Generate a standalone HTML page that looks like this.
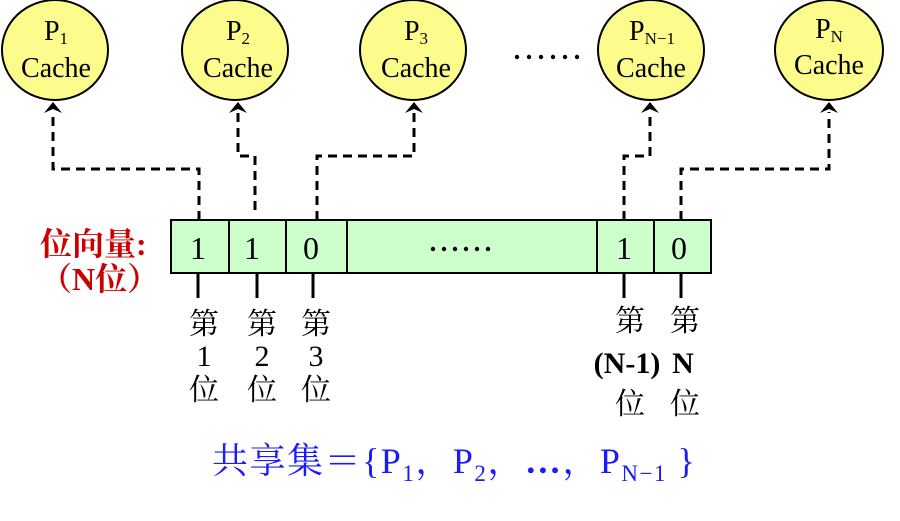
<!DOCTYPE html>
<html><head><meta charset="utf-8"><style>
body{margin:0;background:#fff;}
svg{display:block;}
.s{font-family:"Liberation Serif","Noto Serif CJK SC",serif;}
.k{font-family:"Liberation Serif","Noto Serif CJK SC",serif;}
</style></head><body>
<svg width="900" height="521" viewBox="0 0 900 521" xmlns="http://www.w3.org/2000/svg">
<g fill="#fcfc8c" stroke="#000" stroke-width="2">
<ellipse cx="55" cy="50" rx="53" ry="50"/>
<ellipse cx="235" cy="50" rx="53" ry="50"/>
<ellipse cx="413" cy="50" rx="53" ry="50"/>
<ellipse cx="651" cy="50" rx="53" ry="50"/>
<ellipse cx="829" cy="50" rx="54" ry="50"/>
</g>
<g class="s" font-size="28" text-anchor="middle" fill="#000">
<text x="56" y="40">P<tspan font-size="17" dy="4">1</tspan></text>
<text x="56" y="77">Cache</text>
<text x="238" y="40">P<tspan font-size="17" dy="4">2</tspan></text>
<text x="238" y="77">Cache</text>
<text x="416" y="40">P<tspan font-size="17" dy="4">3</tspan></text>
<text x="416" y="77">Cache</text>
<text x="652" y="40">P<tspan font-size="17" dy="4">N−1</tspan></text>
<text x="651" y="77">Cache</text>
<text x="829" y="38">P<tspan font-size="17" dy="4">N</tspan></text>
<text x="829" y="74">Cache</text>
</g>
<g fill="none" stroke="#000" stroke-width="3" stroke-dasharray="9,6">
<polyline points="199,220 199,169 53,169 53,112"/>
<polyline points="255,210 255,156 238,156 238,112"/>
<polyline points="317,220 317,156 414,156 414,112"/>
<polyline points="624,220 624,156 650,156 650,112"/>
<polyline points="681,220 681,169 829,169 829,112"/>
</g>
<g fill="#000">
<path d="M44,113 L53,102 L62,113 L53,109 Z"/>
<path d="M229,113 L238,102 L247,113 L238,109 Z"/>
<path d="M405,113 L414,102 L423,113 L414,109 Z"/>
<path d="M641,113 L650,102 L659,113 L650,109 Z"/>
<path d="M820,113 L829,102 L838,113 L829,109 Z"/>
</g>
<rect x="171" y="220" width="540" height="53" fill="#ccffcc" stroke="#000" stroke-width="2"/>
<g fill="#000">
<circle cx="517" cy="57" r="2.2"/><circle cx="529" cy="57" r="2.2"/><circle cx="541" cy="57" r="2.2"/><circle cx="553" cy="57" r="2.2"/><circle cx="565" cy="57" r="2.2"/><circle cx="577" cy="57" r="2.2"/>
<circle cx="433" cy="249" r="2.2"/><circle cx="444" cy="249" r="2.2"/><circle cx="455" cy="249" r="2.2"/><circle cx="466" cy="249" r="2.2"/><circle cx="477" cy="249" r="2.2"/><circle cx="488" cy="249" r="2.2"/>
</g>
<g stroke="#000" stroke-width="2">
<line x1="229" y1="220" x2="229" y2="273"/><line x1="286" y1="220" x2="286" y2="273"/>
<line x1="347" y1="220" x2="347" y2="273"/><line x1="597" y1="220" x2="597" y2="273"/>
<line x1="654" y1="220" x2="654" y2="273"/>
</g>
<g stroke="#000" stroke-width="3">
<line x1="198" y1="273" x2="198" y2="298"/><line x1="257" y1="273" x2="257" y2="298"/>
<line x1="313" y1="273" x2="313" y2="298"/><line x1="624" y1="273" x2="624" y2="298"/>
<line x1="681" y1="273" x2="681" y2="298"/>
</g>
<g class="s" font-size="32" text-anchor="middle">
<text x="198" y="259">1</text><text x="252" y="259">1</text><text x="311" y="259">0</text>
<text x="624" y="259">1</text><text x="679" y="259">0</text>
</g>
<g class="k" font-size="30" text-anchor="middle">
<text x="204" y="334">第</text><text x="204" y="366">1</text><text x="204" y="400">位</text>
<text x="262" y="334">第</text><text x="262" y="366">2</text><text x="262" y="400">位</text>
<text x="316" y="334">第</text><text x="316" y="366">3</text><text x="316" y="400">位</text>
<text x="630" y="331">第</text><text x="627" y="373" font-weight="bold">(N-1)</text><text x="630" y="414">位</text>
<text x="685" y="331">第</text><text x="683" y="373" font-weight="bold">N</text><text x="685" y="414">位</text>
</g>
<g class="k" fill="#cc0000" font-size="32" font-weight="bold">
<text x="40" y="255">位向量:</text>
<text x="40" y="290">（N位）</text>
</g>
<text class="k" x="212" y="473" font-size="36" letter-spacing="1.5" fill="#1a1aff">共享集＝{P<tspan font-size="23" dy="8">1</tspan><tspan dy="-8">，P</tspan><tspan font-size="23" dy="8">2</tspan><tspan dy="-8">，</tspan><tspan font-weight="bold">…</tspan><tspan>，P</tspan><tspan font-size="23" dy="8">N−1</tspan><tspan dy="-8"> }</tspan></text>
</svg>
</body></html>
